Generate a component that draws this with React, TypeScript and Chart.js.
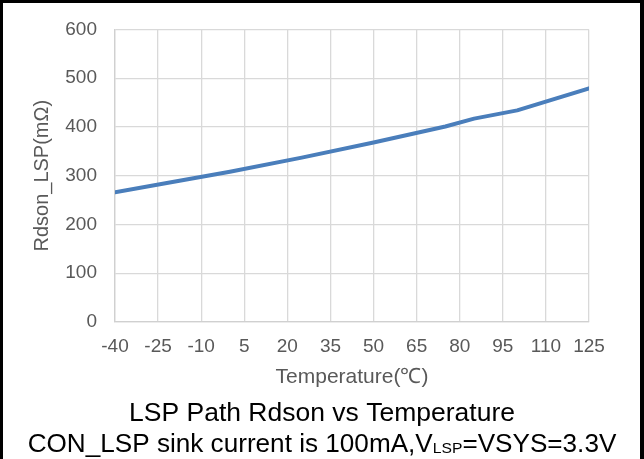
import React, { useEffect, useRef } from "react";
import { Chart, registerables } from "chart.js";

Chart.register(...registerables);

const temperatures = [-40, -20, 0, 25, 50, 75, 85, 100, 125];
const rdsonValues = [266, 287, 308, 337, 368, 401, 417, 434, 479];

const X_MIN = -40;
const X_MAX = 125;
const X_STEP = 15;
const Y_MIN = 0;
const Y_MAX = 600;
const Y_STEP = 100;

const Y_TITLE = "Rdson_LSP(mΩ)";
const X_TITLE = "Temperature(℃)";
const TITLE_LINE1 = "LSP Path Rdson vs Temperature";
const TITLE_LINE2_A = "CON_LSP sink current is 100mA,V";
const TITLE_LINE2_SUB = "LSP";
const TITLE_LINE2_B = "=VSYS=3.3V";

const FONT = '"Liberation Sans", Arial, sans-serif';

const bottomTitlePlugin = {
  id: "bottomTitle",
  afterDraw(chart: any) {
    const ctx = chart.ctx as CanvasRenderingContext2D;
    const cx = chart.width / 2;
    ctx.save();
    ctx.fillStyle = "#000000";
    ctx.textBaseline = "alphabetic";
    ctx.textAlign = "left";
    const big = `25px ${FONT}`;
    const small = `15px ${FONT}`;

    // line 1
    const stretch1 = 1.06;
    ctx.font = big;
    const w1 = ctx.measureText(TITLE_LINE1).width * stretch1;
    ctx.save();
    ctx.translate(cx - w1 / 2, 421);
    ctx.scale(stretch1, 1);
    ctx.fillText(TITLE_LINE1, 0, 0);
    ctx.restore();

    // line 2
    const stretch2 = 1.045;
    ctx.font = big;
    const wA = ctx.measureText(TITLE_LINE2_A).width;
    const wB = ctx.measureText(TITLE_LINE2_B).width;
    ctx.font = small;
    const wS = ctx.measureText(TITLE_LINE2_SUB).width;
    const total = (wA + wS + wB) * stretch2;
    ctx.save();
    ctx.translate(cx - total / 2, 452);
    ctx.scale(stretch2, 1);
    let x = 0;
    ctx.font = big;
    ctx.fillText(TITLE_LINE2_A, x, 0);
    x += wA;
    ctx.font = small;
    ctx.fillText(TITLE_LINE2_SUB, x, 1);
    x += wS;
    ctx.font = big;
    ctx.fillText(TITLE_LINE2_B, x, 0);
    ctx.restore();
    ctx.restore();
  },
};

export default function App() {
  const canvasRef = useRef<HTMLCanvasElement | null>(null);

  useEffect(() => {
    if (!canvasRef.current) return;
    const chart = new Chart(canvasRef.current, {
      type: "scatter",
      data: {
        datasets: [
          {
            data: temperatures.map((t, i) => ({ x: t, y: rdsonValues[i] })),
            showLine: true,
            borderColor: "#4a7ebb",
            backgroundColor: "#4a7ebb",
            borderWidth: 4,
            pointRadius: 0,
            tension: 0,
            borderCapStyle: "round",
            borderJoinStyle: "round",
          },
        ],
      },
      options: {
        responsive: false,
        animation: false,
        layout: { padding: { left: 0, right: 55, top: 25, bottom: 67 } },
        plugins: {
          legend: { display: false },
          tooltip: { enabled: false },
          title: { display: false },
        },
        scales: {
          x: {
            type: "linear",
            min: X_MIN,
            max: X_MAX,
            afterFit(scale: any) {
              scale.height = 70;
            },
            ticks: {
              stepSize: X_STEP,
              autoSkip: false,
              maxRotation: 0,
              color: "#595959",
              padding: 13,
              font: { family: FONT, size: 19 },
            },
            grid: {
              color: "#d9d9d9",
              lineWidth: 1.3,
              drawTicks: false,
            },
            border: { color: "#d0d0d0", width: 1.3 },
            title: {
              display: true,
              text: X_TITLE,
              color: "#595959",
              font: { family: FONT, size: 21 },
              padding: { top: 0, bottom: 2 },
            },
          },
          y: {
            min: Y_MIN,
            max: Y_MAX,
            afterFit(scale: any) {
              scale.width = 115;
            },
            ticks: {
              stepSize: Y_STEP,
              color: "#595959",
              padding: 18,
              font: { family: FONT, size: 19 },
            },
            grid: {
              color: "#d9d9d9",
              lineWidth: 1.3,
              drawTicks: false,
            },
            border: { color: "#d0d0d0", width: 1.3 },
            title: {
              display: true,
              text: Y_TITLE,
              color: "#595959",
              font: { family: FONT, size: 20 },
              padding: { top: 30, bottom: 0 },
            },
          },
        },
      },
      plugins: [bottomTitlePlugin],
    });
    return () => chart.destroy();
  }, []);

  return (
    <div
      style={{
        position: "fixed",
        left: 0,
        top: 0,
        width: 644,
        height: 459,
        background: "#ffffff",
      }}
    >
      <canvas
        ref={canvasRef}
        width={644}
        height={459}
        style={{ position: "absolute", left: 0, top: 0, width: 644, height: 459 }}
      />
      <div
        style={{
          position: "absolute",
          left: 0,
          top: 0,
          width: 644,
          height: 459,
          boxSizing: "border-box",
          borderLeft: "3px solid #000",
          borderTop: "3px solid #000",
          borderRight: "4px solid #000",
          pointerEvents: "none",
        }}
      />
    </div>
  );
}
